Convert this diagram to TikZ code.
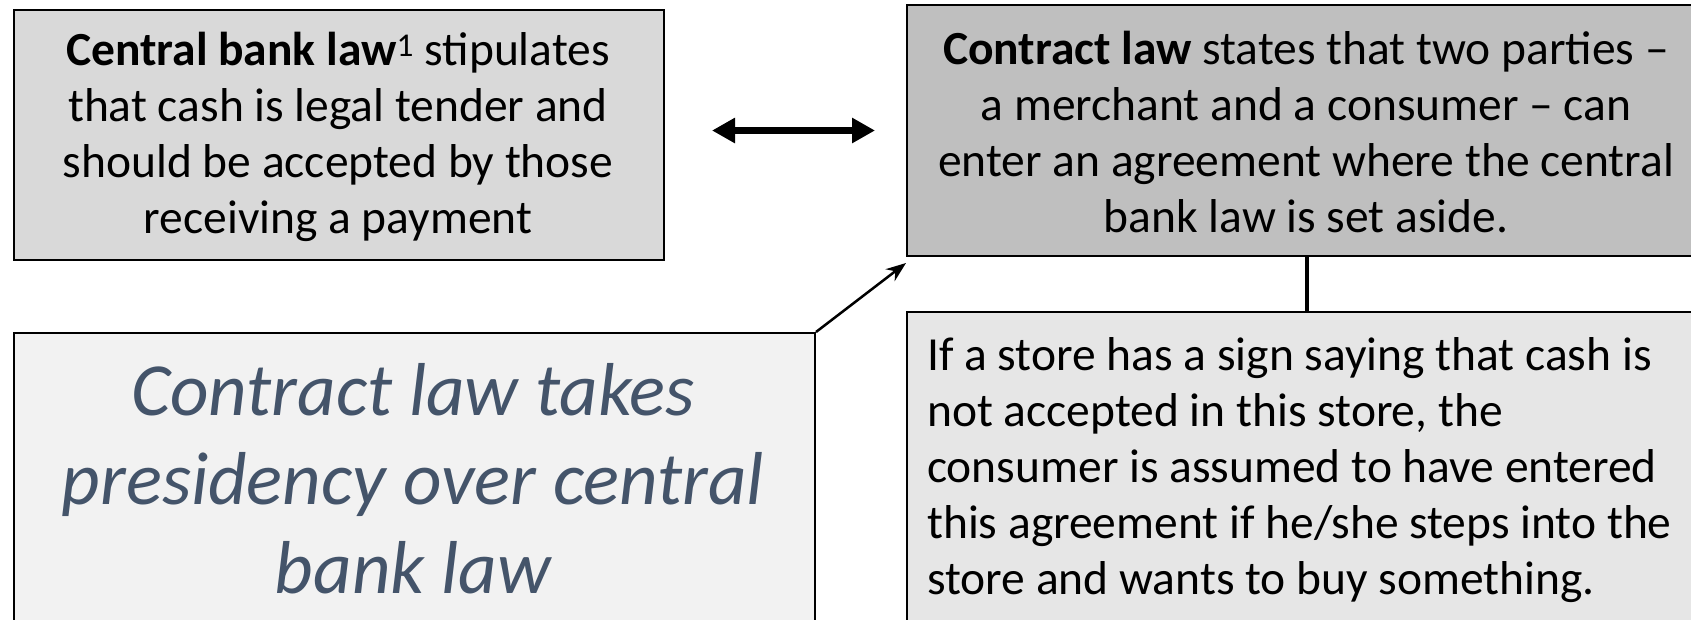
\documentclass[tikz,border=0pt]{standalone}
\usepackage{fontspec}
\setmainfont{Carlito}
\usetikzlibrary{arrows.meta}
\definecolor{fillA}{HTML}{D9D9D9}
\definecolor{fillB}{HTML}{BFBFBF}
\definecolor{fillC}{HTML}{F2F2F2}
\definecolor{fillD}{HTML}{E6E6E6}
\definecolor{slate}{HTML}{44546A}
\begin{document}
\begin{tikzpicture}[x=1pt,y=-1pt,
  box/.style={draw=black, line width=2pt, rectangle, inner sep=0pt, anchor=north west},
  txt/.style={font=\fontsize{47.5}{56}\selectfont, inner sep=0pt},
  bigtxt/.style={font=\fontsize{75}{89}\selectfont\itshape, text=slate, inner sep=0pt}]
\clip (0,0) rectangle (1691,619);
\fill[white] (0,0) rectangle (1691,619);
% boxes
\node[box, fill=fillA, minimum width=650pt, minimum height=250pt] (b1) at (13,9) {};
\node[box, fill=fillB, minimum width=800pt, minimum height=251pt] (b2) at (906,4) {};
\node[box, fill=fillC, minimum width=801pt, minimum height=400pt] (b3) at (13,332) {};
\node[box, fill=fillD, minimum width=800pt, minimum height=400pt] (b4) at (906,311) {};
% texts
\node[txt, align=center] (t1) at (338,137) {\textbf{Central bank law}\textsuperscript{1} stipulates\\that cash is legal tender and\\should be accepted by those\\receiving a payment};
\node[txt, align=center] (t2) at (1306,132.5) {\textbf{Contract law} states that two parties –\\a merchant and a consumer – can\\enter an agreement where the central\\bank law is set aside.};
\node[txt, align=left, anchor=west] (t4) at (927,470) {If a store has a sign saying that cash is\\not accepted in this store, the\\consumer is assumed to have entered\\this agreement if he/she steps into the\\store and wants to buy something.};
\node[bigtxt, align=center] (t3) at (413,478.5) {Contract law takes\\presidency over central\\bank law};
% connectors
\draw[line width=7pt, {Triangle[length=23pt,width=24pt]}-{Triangle[length=23pt,width=24pt]}]
  ([xshift=47pt]b1.east |- b2.west) -- ([xshift=-31pt]b2.west);
\draw[line width=4pt] (b2.south) -- (b4.north);
\draw[line width=2.5pt, -{Stealth[length=20pt,width=15pt]}] (b3.north east) -- ([yshift=-6pt]b2.south west);
\end{tikzpicture}
\end{document}
